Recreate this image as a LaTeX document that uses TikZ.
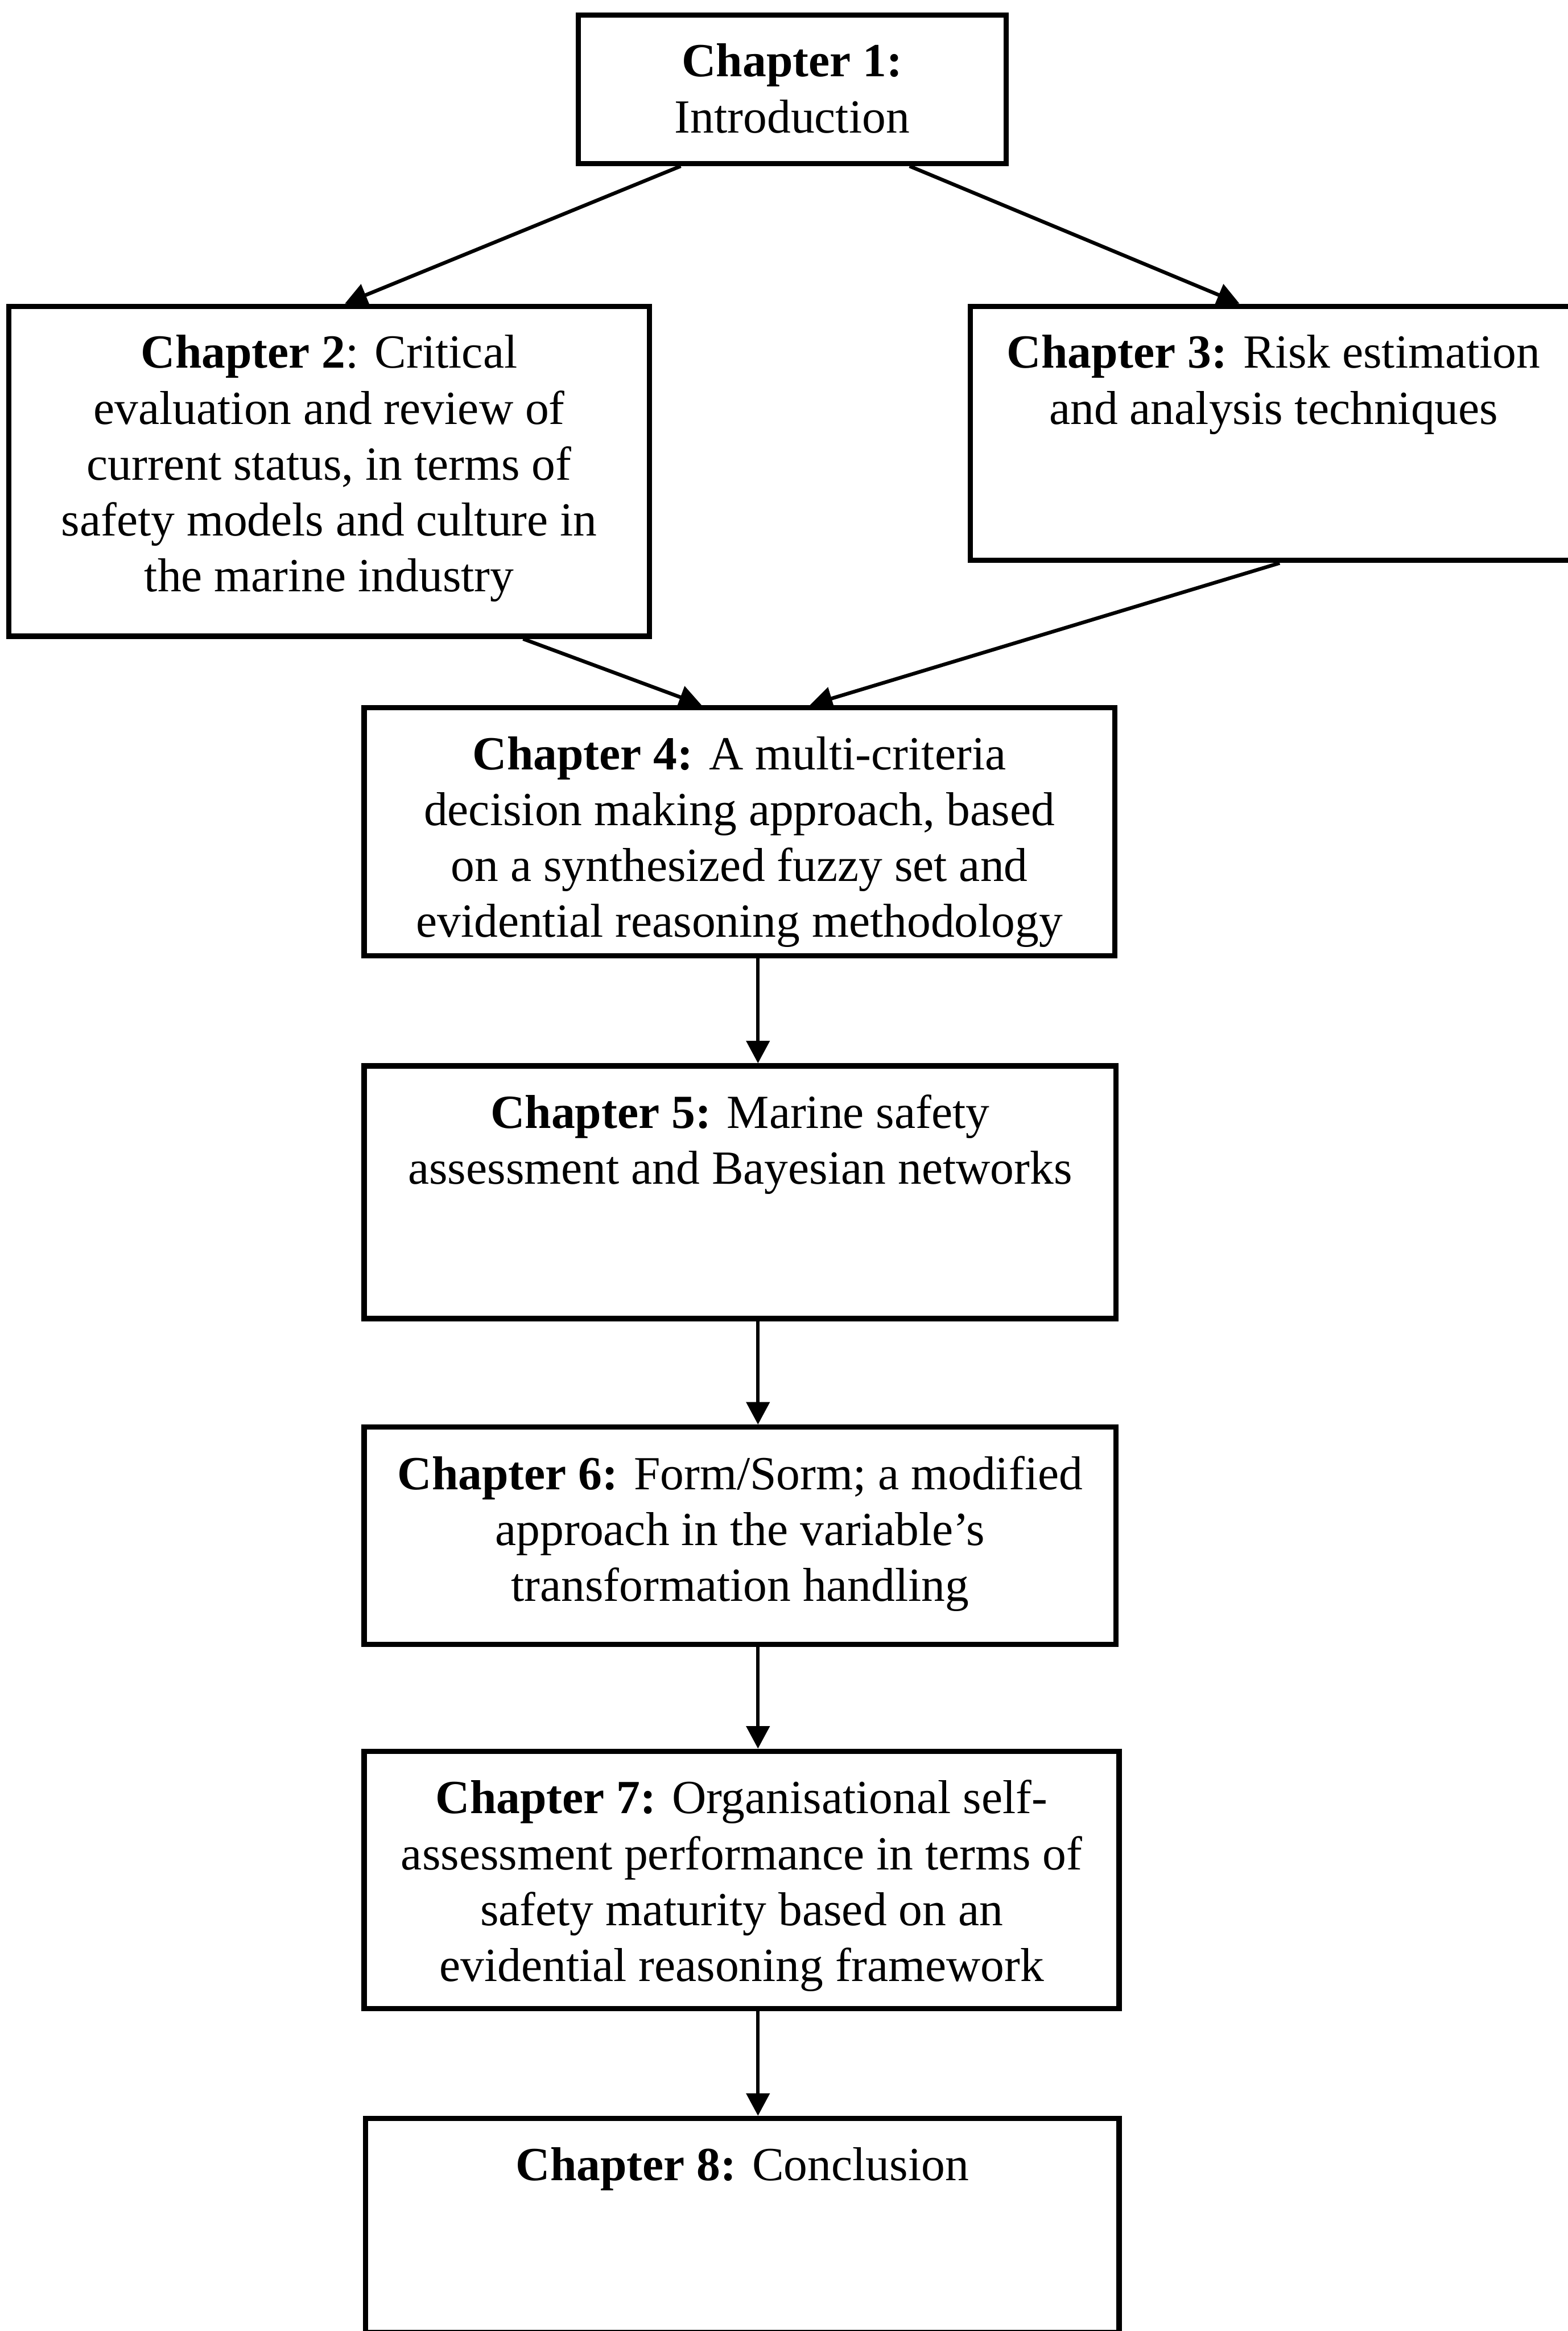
\documentclass[tikz,border=0pt]{standalone}
\usepackage{fontspec}
\setmainfont{Liberation Serif}
\usetikzlibrary{positioning,calc,arrows.meta}

\begin{document}
\begin{tikzpicture}[y=-1cm,
  box/.style={draw, line width=1pt, inner sep=0pt},
  txt/.style={align=center, inner sep=0pt, font=\fontsize{9.1pt}{10.7pt}\selectfont},
  link/.style={line width=0.7pt, -{Triangle[length=4.3pt,width=4.4pt]}}]
  \def\gap{2.05mm}
  \useasboundingbox (0,0) rectangle (10.55,15.68);
  \clip (0,0) rectangle (10.55,15.68);

  % chapter frames
  \node[box, minimum width=2.88cm, minimum height=1.00cm] (c1) at (5.33,0.60) {};
  \node[box, minimum width=4.31cm, minimum height=2.22cm] (c2) at (2.215,3.17) {};
  \node[box, minimum width=4.08cm, minimum height=1.71cm] (c3) at (8.57,2.915) {};
  \node[box, minimum width=5.05cm, minimum height=1.67cm] (c4) at (4.975,5.595) {};
  \node[box, minimum width=5.06cm, minimum height=1.70cm] (c5) at (4.98,8.02) {};
  \node[box, minimum width=5.06cm, minimum height=1.46cm] (c6) at (4.98,10.33) {};
  \node[box, minimum width=5.08cm, minimum height=1.73cm] (c7) at (4.99,12.645) {};
  \node[box, minimum width=5.07cm, minimum height=1.44cm] (c8) at (4.995,14.97) {};

  % texts, hung from the top of each frame
  \node[txt, below=\gap of c1.north] (t1) {\textbf{Chapter 1:}\\Introduction};
  \node[txt, below=\gap of c2.north] (t2) {\textbf{Chapter 2}: Critical\\evaluation and review of\\current status, in terms of\\safety models and culture in\\the marine industry};
  \node[txt, below=\gap of c3.north] (t3) {\textbf{Chapter 3:} Risk estimation\\and analysis techniques};
  \node[txt, below=\gap of c4.north] (t4) {\textbf{Chapter 4:} A multi-criteria\\decision making approach, based\\on a synthesized fuzzy set and\\evidential reasoning methodology};
  \node[txt, below=\gap of c5.north] (t5) {\textbf{Chapter 5:} Marine safety\\assessment and Bayesian networks};
  \node[txt, below=\gap of c6.north] (t6) {\textbf{Chapter 6:} Form/Sorm; a modified\\approach in the variable's\\transformation handling};
  \node[txt, below=\gap of c7.north] (t7) {\textbf{Chapter 7:} Organisational self-\\assessment performance in terms of\\safety maturity based on an\\evidential reasoning framework};
  \node[txt, below=\gap of c8.north] (t8) {\textbf{Chapter 8:} Conclusion};

  % connectors
  \draw[link] ([xshift=-7.5mm]c1.south) -- ([xshift=1.05mm]c2.north);
  \draw[link] ([xshift=7.9mm]c1.south) -- ([xshift=-2.3mm]c3.north);
  \draw[link] ([xshift=13.05mm]c2.south) -- ([xshift=-2.55mm]c4.north);
  \draw[link] ([xshift=0.4mm]c3.south) -- ([xshift=4.75mm]c4.north);

  \coordinate (sp) at (5.10,0);
  \foreach \a/\b in {c4/c5,c5/c6,c6/c7,c7/c8}
    \draw[link] (\a.south -| sp) -- (\b.north -| sp);
\end{tikzpicture}
\end{document}
